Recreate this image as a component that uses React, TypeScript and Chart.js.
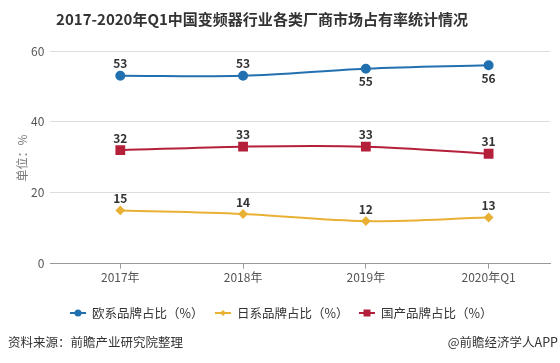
import React, { useEffect, useRef } from "react";
import { Chart, registerables } from "chart.js";

Chart.register(...registerables);

const categories = ["2017年", "2018年", "2019年", "2020年Q1"];
const europeValues = [53, 53, 55, 56];
const japanValues = [15, 14, 12, 13];
const domesticValues = [32, 33, 33, 31];
const yTicks = [0, 20, 40, 60];
const seriesNames = ["欧系品牌占比（%）", "日系品牌占比（%）", "国产品牌占比（%）"];

const FONT = "'Noto Sans CJK SC', 'Noto Sans', sans-serif";

function drawMarker(ctx: CanvasRenderingContext2D, style: string, x: number, y: number) {
  ctx.beginPath();
  if (style === "circle") {
    ctx.arc(x, y, 3.5, 0, Math.PI * 2);
  } else if (style === "rect") {
    ctx.rect(x - 3.5, y - 3.5, 7, 7);
  } else {
    ctx.moveTo(x, y - 3);
    ctx.lineTo(x + 3, y);
    ctx.lineTo(x, y + 3);
    ctx.lineTo(x - 3, y);
    ctx.closePath();
  }
  ctx.fill();
}

export default function App() {
  const ref = useRef<HTMLCanvasElement | null>(null);

  useEffect(() => {
    document.body.style.margin = "0";
    const blue = "#2270b0";
    const yellow = "#e9b134";
    const red = "#b41f39";
    const styles = ["circle", "rectRot", "rect"];

    const labelPos: Record<number, ("top" | "bottom")[]> = {
      0: ["top", "top", "bottom", "bottom"],
      1: ["top", "top", "top", "top"],
      2: ["top", "top", "top", "top"],
    };

    const dataLabels = {
      id: "dataLabels",
      afterDatasetsDraw(chart: any) {
        const ctx = chart.ctx;
        ctx.save();
        ctx.font = `bold 12px ${FONT}`;
        ctx.fillStyle = "#333";
        ctx.textAlign = "center";
        ctx.textBaseline = "middle";
        chart.data.datasets.forEach((ds: any, di: number) => {
          const meta = chart.getDatasetMeta(di);
          meta.data.forEach((pt: any, i: number) => {
            const v = ds.data[i].y;
            const pos = labelPos[di][i];
            const y = pos === "top" ? pt.y - 12 : pt.y + 13;
            ctx.fillText(String(v), pt.x, y);
          });
        });
        ctx.restore();
      },
    };

    const decorations = {
      id: "decorations",
      afterDraw(chart: any) {
        const ctx = chart.ctx;
        ctx.save();
        ctx.font = `bold 15px ${FONT}`;
        ctx.fillStyle = "#333";
        ctx.textAlign = "center";
        ctx.textBaseline = "middle";
        ctx.fillText("2017-2020年Q1中国变频器行业各类厂商市场占有率统计情况", 262, 19);
        ctx.save();
        ctx.translate(22, 158);
        ctx.rotate(-Math.PI / 2);
        ctx.font = `12px ${FONT}`;
        ctx.fillStyle = "#777";
        ctx.fillText("单位：%", 0, 0);
        ctx.restore();
        const iconX = [70, 215, 359];
        const textX = [92, 237, 381];
        const ly = 313;
        ctx.font = `12.5px ${FONT}`;
        ctx.textAlign = "left";
        chart.data.datasets.forEach((ds: any, i: number) => {
          const c = ds.borderColor;
          ctx.strokeStyle = c;
          ctx.fillStyle = c;
          ctx.lineWidth = 2;
          ctx.beginPath();
          ctx.moveTo(iconX[i], ly);
          ctx.lineTo(iconX[i] + 16, ly);
          ctx.stroke();
          drawMarker(ctx, styles[i], iconX[i] + 8, ly);
          ctx.fillStyle = "#333";
          ctx.fillText(seriesNames[i], textX[i], ly);
        });
        ctx.font = `12.5px ${FONT}`;
        ctx.fillStyle = "#333";
        ctx.textAlign = "left";
        ctx.fillText("资料来源：前瞻产业研究院整理", 8, 342);
        ctx.textAlign = "right";
        ctx.fillText("@前瞻经济学人APP", 558, 342);
        ctx.restore();
      },
    };

    const mk = (arr: number[]) => arr.map((v, i) => ({ x: i, y: v }));

    const chart = new Chart(ref.current!, {
      type: "line",
      data: {
        datasets: [
          {
            label: seriesNames[0],
            data: mk(europeValues),
            borderColor: blue,
            backgroundColor: blue,
            pointStyle: "circle",
            pointRadius: 4,
            borderWidth: 2,
            tension: 0.35,
          },
          {
            label: seriesNames[1],
            data: mk(japanValues),
            borderColor: yellow,
            backgroundColor: yellow,
            pointStyle: "rectRot",
            pointRadius: 3.5,
            borderWidth: 2,
            tension: 0.35,
          },
          {
            label: seriesNames[2],
            data: mk(domesticValues),
            borderColor: red,
            backgroundColor: red,
            pointStyle: "rect",
            pointRadius: 5.5,
            borderWidth: 2,
            tension: 0.35,
          },
        ],
      },
      options: {
        animation: false,
        responsive: false,
        layout: { padding: { left: 25, right: 10, top: 51, bottom: 76 } },
        plugins: {
          title: { display: false },
          legend: { display: false },
          tooltip: { enabled: false },
        },
        scales: {
          x: {
            type: "linear",
            min: -0.57,
            max: 3.5,
            afterBuildTicks: (axis: any) => {
              axis.ticks = categories.map((_, i) => ({ value: i }));
            },
            ticks: {
              callback: (v: any) => categories[v as number] ?? "",
              color: "#555",
              font: { family: FONT, size: 12 },
              padding: 2,
              maxRotation: 0,
            },
            grid: {
              drawOnChartArea: false,
              drawTicks: true,
              tickLength: 5,
              color: "#999",
            },
            border: { display: true, color: "#999", width: 1 },
          },
          y: {
            min: 0,
            max: 60,
            afterBuildTicks: (axis: any) => {
              axis.ticks = yTicks.map((v) => ({ value: v }));
            },
            ticks: {
              color: "#555",
              font: { family: FONT, size: 12 },
              padding: 6,
            },
            grid: { color: "#ddd", drawTicks: false },
            border: { display: false },
          },
        },
      },
      plugins: [dataLabels, decorations],
    } as any);

    return () => chart.destroy();
  }, []);

  return (
    <div style={{ position: "absolute", left: 0, top: 0, width: 560, height: 363, background: "#fff" }}>
      <canvas ref={ref} width={560} height={363} style={{ width: 560, height: 363 }} />
    </div>
  );
}
